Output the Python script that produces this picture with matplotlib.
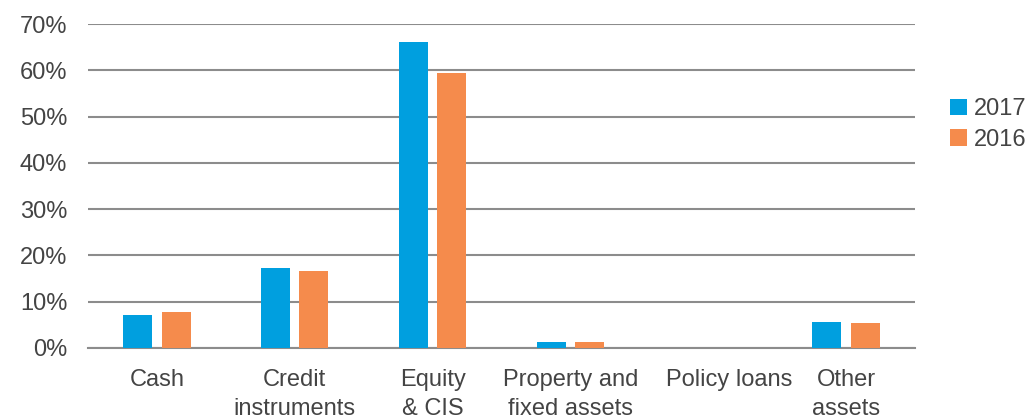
import numpy as np
import matplotlib.pyplot as plt

plt.rcParams['font.family'] = ['Liberation Sans', 'DejaVu Sans']

categories = ['Cash', 'Credit\ninstruments', 'Equity\n& CIS', 'Property and\nfixed assets',
              'Policy loans', 'Other\nassets']
share_2017 = [7.2, 17.3, 66.1, 1.3, 0.0, 5.7]
share_2016 = [7.8, 16.7, 59.4, 1.2, 0.0, 5.5]

blue = '#009fdf'
orange = '#f58b4c'
grey_text = '#444444'

fig = plt.figure(figsize=(10.25, 4.19), dpi=100)
ax = fig.add_axes([0.0859, 0.1695, 0.8068, 0.7732])

x = np.arange(len(categories))
width = 0.21
offset = 0.139
ax.bar(x - offset, share_2017, width, color=blue, label='2017', zorder=3)
ax.bar(x + offset, share_2016, width, color=orange, label='2016', zorder=3)

ax.set_xlim(-0.5, len(categories) - 0.5)
ax.set_ylim(0, 70)
ax.set_yticks(np.arange(0, 71, 10))
ax.set_yticklabels(['%d%%' % v for v in range(0, 71, 10)])
ax.yaxis.grid(True, color='#8c8c8c', linewidth=1.5, zorder=0)
ax.set_xticks(x)
ticklabels = list(categories)
ticklabels[4] = ''
ax.set_xticklabels(ticklabels, linespacing=1.4)

# single-line label sits a little right of its tick to clear the neighbour
ax.annotate(categories[4], xy=(x[4], 0), xycoords=('data', 'axes fraction'),
            xytext=(15, -15), textcoords='offset points', ha='center', va='top',
            fontsize=17, color=grey_text)

for side in ['top', 'right', 'left']:
    ax.spines[side].set_visible(False)
ax.spines['bottom'].set_color('#8c8c8c')
ax.spines['bottom'].set_linewidth(1.5)
ax.tick_params(axis='both', length=0, labelsize=17, labelcolor=grey_text)
ax.tick_params(axis='y', pad=15)
ax.tick_params(axis='x', pad=15)

fig.legend(loc='upper left', bbox_to_anchor=(0.927, 0.765), frameon=False,
           fontsize=17, labelcolor=grey_text, handlelength=0.7, handleheight=0.7,
           handletextpad=0.3, labelspacing=0.35, borderaxespad=0, borderpad=0)

fig.savefig('out.png', dpi=100)
